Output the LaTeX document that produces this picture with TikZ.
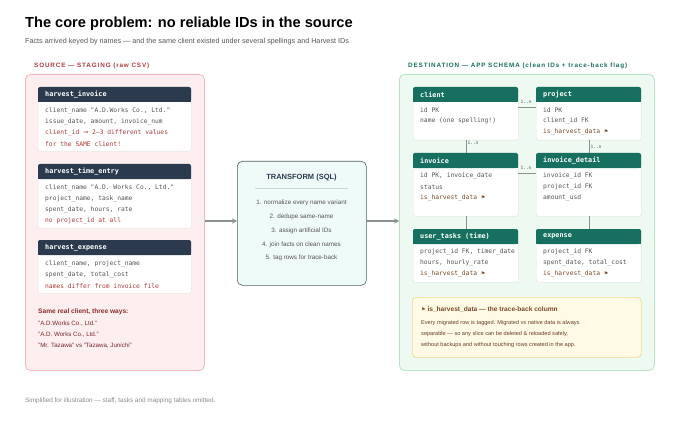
\documentclass[tikz,border=0pt]{standalone}
\usepackage{fontspec}
\setmainfont{Liberation Sans}
\setsansfont{Liberation Sans}
\setmonofont{DejaVu Sans Mono}
\newfontfamily\symf{DejaVu Sans}
\newfontfamily\spaced[LetterSpace=14]{Liberation Sans}
\usetikzlibrary{arrows.meta}
\definecolor{navy}{HTML}{2B3A4D}
\definecolor{teal}{HTML}{17705F}
\definecolor{redt}{HTML}{B03A3A}
\definecolor{grayt}{HTML}{555555}
\definecolor{srcfill}{HTML}{FDEFF0}
\definecolor{srcdraw}{HTML}{F0B8BC}
\definecolor{dstfill}{HTML}{EDF9F1}
\definecolor{dstdraw}{HTML}{B8E4C4}
\definecolor{trfill}{HTML}{EEFBF9}
\definecolor{trdraw}{HTML}{4F5F5F}
\definecolor{notefill}{HTML}{FFFAE6}
\definecolor{notedraw}{HTML}{F0DA8C}
\definecolor{brown}{HTML}{7A4A2A}
\definecolor{linec}{HTML}{8A9090}
\tikzset{
 row/.style={anchor=west,inner sep=0,font=\ttfamily\fontsize{6.3}{7}\selectfont,text=grayt},
 rrow/.style={row,text=redt},
 hdr/.style={anchor=west,inner sep=0,font=\ttfamily\bfseries\fontsize{6.8}{8}\selectfont,text=white},
 lab/.style={inner sep=0,font=\ttfamily\fontsize{4.5}{5}\selectfont,text=grayt},
 conn/.style={draw=linec,line width=0.7pt},
 arr/.style={draw=linec,line width=1.1pt,-{Stealth[length=5pt,width=5pt]}},
 sm/.style={anchor=west,inner sep=0,font=\fontsize{6.2}{7}\selectfont,text=redt!70!black},
 nt/.style={anchor=west,inner sep=0,font=\fontsize{5.6}{7}\selectfont,text=brown!85!black},
}
% name, x1, y1(header top), x2, y2(body bottom), headercolor, title
\newcommand\mytbl[7]{%
 \node[draw=black!12,fill=white,rounded corners=2pt,anchor=north west,minimum width=#4-#2,minimum height=#5-#3,inner sep=0] (#1) at (#2,#3) {};
 \fill[#6,rounded corners=2pt] (#2,#3) rectangle (#4,#3+15);
 \fill[#6] (#2,#3+8) rectangle (#4,#3+15);
 \node[hdr] (#1h) at (#2+7,#3+7.5) {#7};
}
\begin{document}
\begin{tikzpicture}[x=1pt,y=-1pt]
\useasboundingbox[fill=white] (0,0) rectangle (680,425);
\node[anchor=west,inner sep=0,font=\bfseries\fontsize{14.6}{17}\selectfont] (title) at (25,24) {The core problem: no reliable IDs in the source};
\node[anchor=west,inner sep=0,font=\fontsize{7.2}{8}\selectfont,text=grayt] (sub) at (25,42) {Facts arrived keyed by names — and the same client existed under several spellings and Harvest IDs};

% source
\node[anchor=west,inner sep=0,font=\spaced\bfseries\fontsize{6.3}{8}\selectfont,text=redt] (srcl) at (34,66) {SOURCE — STAGING (raw CSV)};
\node[draw=srcdraw,fill=srcfill,rounded corners=5pt,anchor=north west,minimum width=179,minimum height=296,inner sep=0,line width=0.8pt] (src) at (25,74) {};
\mytbl{hi}{38}{87}{191}{151}{navy}{harvest\_invoice}
\node[row] (hi1) at (45,111) {client\_name "A.D.Works Co., Ltd."};
\node[row] (hi2) at (45,122) {issue\_date, amount, invoice\_num};
\node[rrow] (hi3) at (45,133) {client\_id {\symf→} 2–3 different values};
\node[rrow] (hi4) at (45,144) {for the SAME client!};
\mytbl{ht}{38}{164}{191}{228}{navy}{harvest\_time\_entry}
\node[row] (ht1) at (45,188) {client\_name "A.D. Works Co., Ltd."};
\node[row] (ht2) at (45,199) {project\_name, task\_name};
\node[row] (ht3) at (45,210) {spent\_date, hours, rate};
\node[rrow] (ht4) at (45,221) {no project\_id at all};
\mytbl{he}{38}{240}{191}{293}{navy}{harvest\_expense}
\node[row] (he1) at (45,264) {client\_name, project\_name};
\node[row] (he2) at (45,275) {spent\_date, total\_cost};
\node[rrow] (he3) at (45,286) {names differ from invoice file};
\node[anchor=west,inner sep=0,font=\bfseries\fontsize{6.6}{7}\selectfont,text=redt!80!black] (s0) at (38,312) {Same real client, three ways:};
\node[sm] (s1) at (38,324) {"A.D.Works Co., Ltd."};
\node[sm] (s2) at (38,335) {"A.D. Works Co., Ltd."};
\node[sm] (s3) at (38,346) {"Mr. Tazawa" vs "Tazawa, Junichi"};

% transform
\node[draw=trdraw,fill=trfill,rounded corners=5pt,anchor=north west,minimum width=129,minimum height=124,inner sep=0,line width=0.6pt] (tr) at (237,161) {};
\node[inner sep=0,font=\bfseries\fontsize{7.5}{9}\selectfont,text=navy] (trt) at (301.5,178) {TRANSFORM (SQL)};
\draw[draw=teal!25,line width=0.6pt] (255,188) -- (348,188);
\foreach \y/\t [count=\i] in {203/1. normalize every name variant,217/2. dedupe same-name / diff-ID,231/3. assign artificial IDs,245/4. join facts on clean names,258/5. tag rows for trace-back}
 \node[inner sep=0,font=\fontsize{6.3}{7}\selectfont,text=grayt] (tr\i) at (301.5,\y) {\t};
\draw[arr] (src.east |- 0,221) -- (tr.west |- 0,221);

% destination
\node[anchor=west,inner sep=0,font=\spaced\bfseries\fontsize{6.3}{8}\selectfont,text=teal] (dstl) at (408,66) {DESTINATION — APP SCHEMA (clean IDs + trace-back flag)};
\node[draw=dstdraw,fill=dstfill,rounded corners=5pt,anchor=north west,minimum width=255,minimum height=296,inner sep=0,line width=0.8pt] (dst) at (399,74) {};
\draw[arr] (tr.east |- 0,221) -- (dst.west |- 0,221);

\mytbl{cl}{413}{87}{518}{140}{teal}{client}
\node[row] at (420,110) (cl1) {id PK};
\node[row] at (420,121) (cl2) {name (one spelling!)};
\mytbl{pr}{536}{87}{641}{140}{teal}{project}
\node[row] at (543,110) (pr1) {id PK};
\node[row] at (543,121) (pr2) {client\_id FK};
\node[row,text=brown] at (543,132) (pr3) {is\_harvest\_data {\symf\tiny⚑}};
\mytbl{in}{413}{153}{518}{216}{teal}{invoice}
\node[row] at (420,176) (in1) {id PK, invoice\_date};
\node[row] at (420,187) (in2) {status};
\node[row,text=brown] at (420,198) (in3) {is\_harvest\_data {\symf\tiny⚑}};
\mytbl{id}{536}{153}{641}{216}{teal}{invoice\_detail}
\node[row] at (543,176) (id1) {invoice\_id FK};
\node[row] at (543,187) (id2) {project\_id FK};
\node[row] at (543,198) (id3) {amount\_usd};
\mytbl{ut}{413}{229}{518}{282}{teal}{user\_tasks (time)}
\node[row] at (420,252) (ut1) {project\_id FK, timer\_date};
\node[row] at (420,263) (ut2) {hours, hourly\_rate};
\node[row,text=brown] at (420,274) (ut3) {is\_harvest\_data {\symf\tiny⚑}};
\mytbl{ex}{536}{229}{641}{282}{teal}{expense}
\node[row] at (543,252) (ex1) {project\_id FK};
\node[row] at (543,263) (ex2) {spent\_date, total\_cost};
\node[row,text=brown] at (543,274) (ex3) {is\_harvest\_data {\symf\tiny⚑}};

\draw[conn] (cl.east |- 0,107) -- (pr.west |- 0,107);
\node[lab] (l1) at (526,102) {1..n};
\draw[conn] (in.east |- 0,173) -- (id.west |- 0,173);
\node[lab] (l2) at (526,168) {1..n};
\draw[conn] (cl.south -| 466,0) -- (in.north -| 466,0);
\node[lab] (l3) at (473,143) {1..n};
\draw[conn] (pr.south -| 589,0) -- (id.north -| 589,0);
\node[lab] (l4) at (596,147) {1..n};
\draw[conn] (in.south -| 466,0) -- (ut.north -| 466,0);
\draw[conn] (id.south -| 589,0) -- (ex.north -| 589,0);

% note
\node[draw=notedraw,fill=notefill,rounded corners=4pt,anchor=north west,minimum width=229,minimum height=60,inner sep=0,line width=0.7pt] (note) at (412,297) {};
\node[anchor=west,inner sep=0,font=\bfseries\fontsize{6.6}{8}\selectfont,text=brown] (ntt) at (421,310) {{\symf\tiny⚑} is\_harvest\_data — the trace-back column};
\node[nt] (n1) at (421,323) {Every migrated row is tagged. Migrated vs native data is always};
\node[nt] (n2) at (421,334) {separable — so any slice can be deleted \& reloaded safely,};
\node[nt] (n3) at (421,345) {without backups and without touching rows created in the app.};

\node[anchor=west,inner sep=0,font=\fontsize{6.4}{7}\selectfont,text=black!45] (foot) at (25,401) {Simplified for illustration — staff, tasks and mapping tables omitted.};
\end{tikzpicture}
\end{document}
